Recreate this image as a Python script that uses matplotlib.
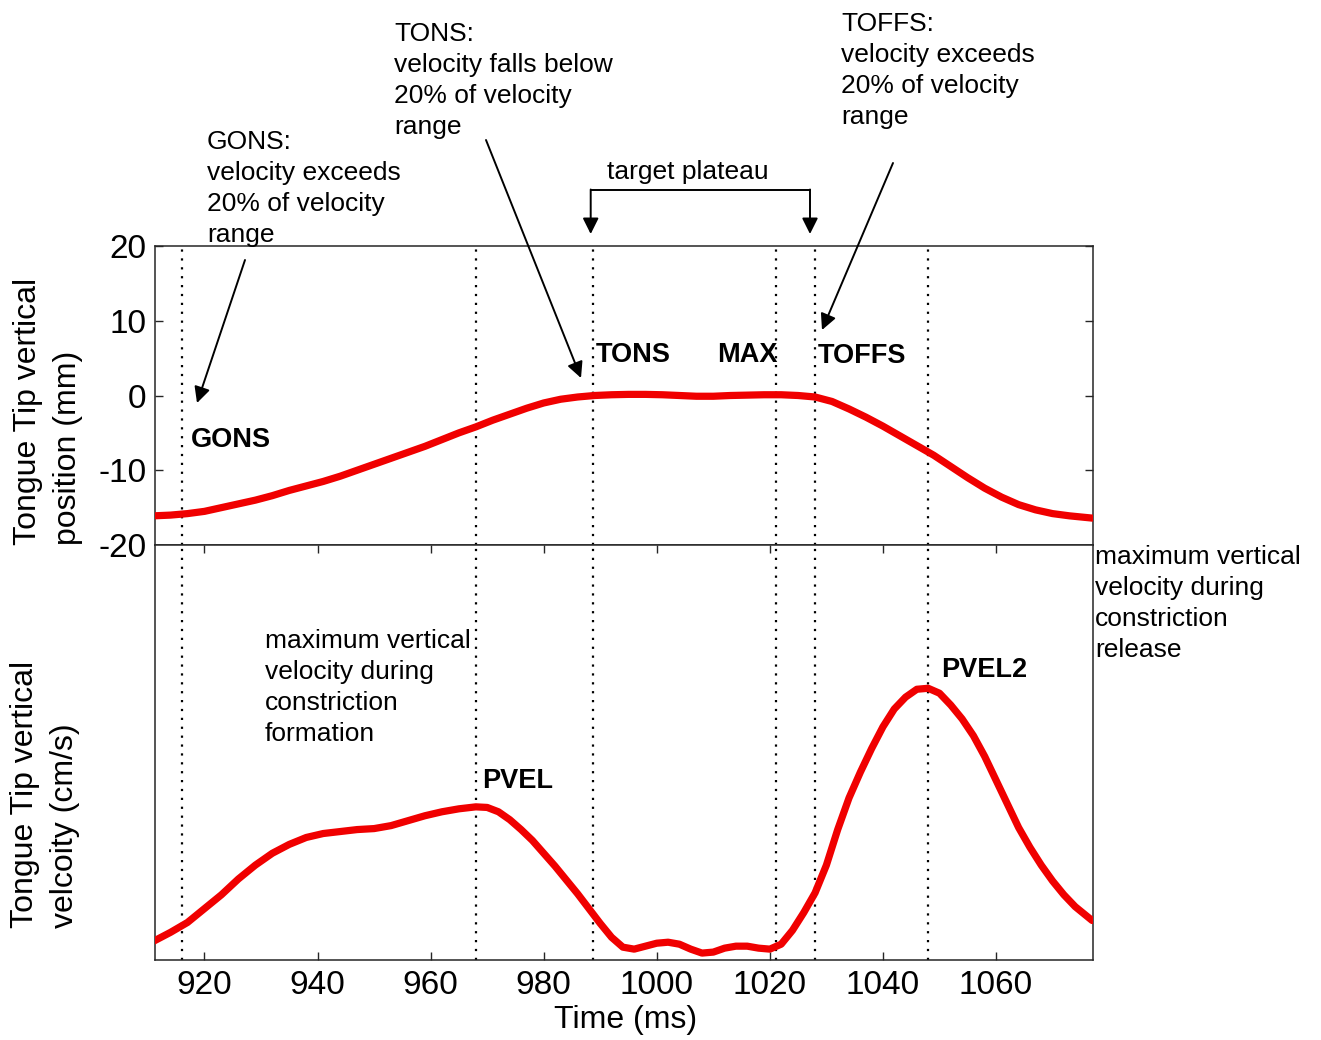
import matplotlib
matplotlib.use('Agg')
import matplotlib.pyplot as plt
from matplotlib.lines import Line2D

# ---------------- data ----------------
time_pos = [911, 914, 917, 920, 923, 926, 929, 932, 935, 938, 941, 944, 947, 950,
            953, 956, 959, 962, 965, 968, 971, 974, 977, 980, 983, 986, 989, 992,
            995, 998, 1001, 1004, 1007, 1010, 1013, 1016, 1019, 1022, 1025, 1028,
            1031, 1034, 1037, 1040, 1043, 1046, 1049, 1052, 1055, 1058, 1061, 1064,
            1067, 1070, 1073, 1077]
position_mm = [-16.1, -16.0, -15.8, -15.5, -15.0, -14.5, -14.0, -13.4, -12.7, -12.1,
               -11.5, -10.8, -10.0, -9.2, -8.4, -7.6, -6.8, -5.9, -5.0, -4.2, -3.3,
               -2.5, -1.7, -1.0, -0.5, -0.2, 0.0, 0.1, 0.15, 0.15, 0.1, 0.0, -0.1,
               -0.1, 0.0, 0.05, 0.1, 0.1, 0.0, -0.2, -0.8, -1.8, -2.9, -4.1, -5.4,
               -6.7, -8.0, -9.5, -11.0, -12.4, -13.6, -14.6, -15.3, -15.8, -16.1, -16.4]

time_vel = [911, 914, 917, 920, 923, 926, 929, 932, 935, 938, 941, 944, 947, 950,
            953, 956, 959, 962, 965, 968, 970, 972, 974, 976, 978, 980, 982, 984,
            986, 988, 990, 992, 994, 996, 998, 1000, 1002, 1004, 1006, 1008, 1010,
            1012, 1014, 1016, 1018, 1020, 1022, 1024, 1026, 1028, 1030, 1032, 1034,
            1036, 1038, 1040, 1042, 1044, 1046, 1048, 1050, 1052, 1054, 1056, 1058,
            1060, 1062, 1064, 1066, 1068, 1070, 1072, 1074, 1077]
velocity = [-0.05, 0.4, 0.9, 1.6, 2.3, 3.1, 3.8, 4.4, 4.85, 5.2, 5.4, 5.5, 5.6, 5.65,
            5.8, 6.05, 6.3, 6.5, 6.65, 6.75, 6.72, 6.5, 6.1, 5.6, 5.05, 4.4, 3.75,
            3.05, 2.35, 1.6, 0.85, 0.15, -0.35, -0.45, -0.3, -0.15, -0.1, -0.2,
            -0.45, -0.65, -0.6, -0.4, -0.3, -0.3, -0.4, -0.45, -0.2, 0.5, 1.4, 2.4,
            3.8, 5.6, 7.2, 8.5, 9.7, 10.8, 11.7, 12.3, 12.7, 12.75, 12.5, 11.9, 11.2,
            10.35, 9.3, 8.1, 6.9, 5.7, 4.7, 3.8, 3.0, 2.3, 1.7, 1.0]

event_times = [916, 968, 988.7, 1021, 1028, 1048]
x_ticks = [920, 940, 960, 980, 1000, 1020, 1040, 1060]
pos_ticks = [-20, -10, 0, 10, 20]

# ---------------- figure ----------------
W, H = 1321, 1040
plt.rcParams['font.family'] = ['Liberation Sans', 'DejaVu Sans']
plt.rcParams['axes.unicode_minus'] = False
fig = plt.figure(figsize=(W / 100, H / 100), dpi=100)


def fx(x):
    return x / W


def fy(y):
    return 1 - y / H


def P(x, y):
    return (fx(x), fy(y))


L, R = 154.7, 1092.7
ax1 = fig.add_axes([fx(L), fy(545), fx(R) - fx(L), fy(246) - fy(545)])
ax2 = fig.add_axes([fx(L), fy(960), fx(R) - fx(L), fy(545) - fy(960)])

red = '#f00000'
spine_c = '#262626'
for ax in (ax1, ax2):
    ax.set_xlim(911.2, 1077.1)
    for s in ax.spines.values():
        s.set_color(spine_c)
        s.set_linewidth(1.1)
    for t in event_times:
        ax.axvline(t, color='black', linestyle=(0, (1, 3)), linewidth=1.6, zorder=1)

ax1.plot(time_pos, position_mm, color=red, linewidth=5.2, solid_capstyle='round',
         solid_joinstyle='round', zorder=3)
ax1.set_ylim(-20, 20)
ax1.set_yticks(pos_ticks)
ax1.set_xticks([])
ax1.tick_params(axis='y', direction='in', left=True, right=True, length=6,
                width=1, color=spine_c, labelsize=24, pad=6)

ax2.plot(time_vel, velocity, color=red, linewidth=5.2, solid_capstyle='round',
         solid_joinstyle='round', zorder=3)
ax2.set_ylim(-1, 20)
ax2.set_yticks([])
ax2.set_xticks(x_ticks)
ax2.tick_params(axis='x', direction='in', top=True, bottom=True, length=6,
                width=1, color=spine_c, labelsize=24, pad=7)

# axis labels
fig.text(fx(48), fy(545), "Tongue Tip vertical\nposition (mm)", rotation=90,
         ha='center', va='bottom', multialignment='left', fontsize=23, linespacing=1.4)
fig.text(fx(45), fy(928), "Tongue Tip vertical\nvelcoity (cm/s)", rotation=90,
         ha='center', va='bottom', multialignment='left', fontsize=23, linespacing=1.4)
fig.text(fx(626), fy(1020), "Time (ms)", ha='center', va='center', fontsize=23)

# event labels
lab_kw = dict(fontsize=19.5, fontweight='bold', va='baseline', ha='left')
fig.text(*P(191, 447), "GONS", **lab_kw)
fig.text(*P(596, 362), "TONS", **lab_kw)
fig.text(*P(717, 362), "MAX", **lab_kw)
fig.text(*P(818, 363), "TOFFS", **lab_kw)
fig.text(*P(482, 788), "PVEL", **lab_kw)
fig.text(*P(941, 677), "PVEL2", **lab_kw)

# annotation texts
ann_kw = dict(fontsize=19, va='top', ha='left', linespacing=1.37)
fig.text(*P(207, 130), "GONS:\nvelocity exceeds\n20% of velocity\nrange", **ann_kw)
fig.text(*P(394, 22), "TONS:\nvelocity falls below\n20% of velocity\nrange", **ann_kw)
fig.text(*P(841, 12), "TOFFS:\nvelocity exceeds\n20% of velocity\nrange", **ann_kw)
fig.text(*P(265, 629), "maximum vertical\nvelocity during\nconstriction\nformation", **ann_kw)
fig.text(*P(1095, 545), "maximum vertical\nvelocity during\nconstriction\nrelease", **ann_kw)
fig.text(*P(688, 172), "target plateau", fontsize=19, ha='center', va='center')

arrow_kw = dict(arrowstyle='-|>', color='black', lw=1.4, mutation_scale=24,
                shrinkA=0, shrinkB=0)


def arrow(start, tip):
    ax1.annotate('', xy=P(*tip), xytext=P(*start), xycoords='figure fraction',
                 textcoords='figure fraction', arrowprops=arrow_kw,
                 annotation_clip=False)


arrow((245, 260), (197, 403))
arrow((486, 140), (581, 378))
arrow((893, 163), (822, 330))
arrow((413, 709), (461, 780))
arrow((1086, 597), (942, 643))
# target plateau bracket
fig.add_artist(Line2D([fx(590.7), fx(810)], [fy(190), fy(190)], color='black',
                      lw=1.4, transform=fig.transFigure))
arrow((590.7, 189.5), (590.7, 234))
arrow((810, 189.5), (810, 234))

fig.savefig('out.png', dpi=100)
